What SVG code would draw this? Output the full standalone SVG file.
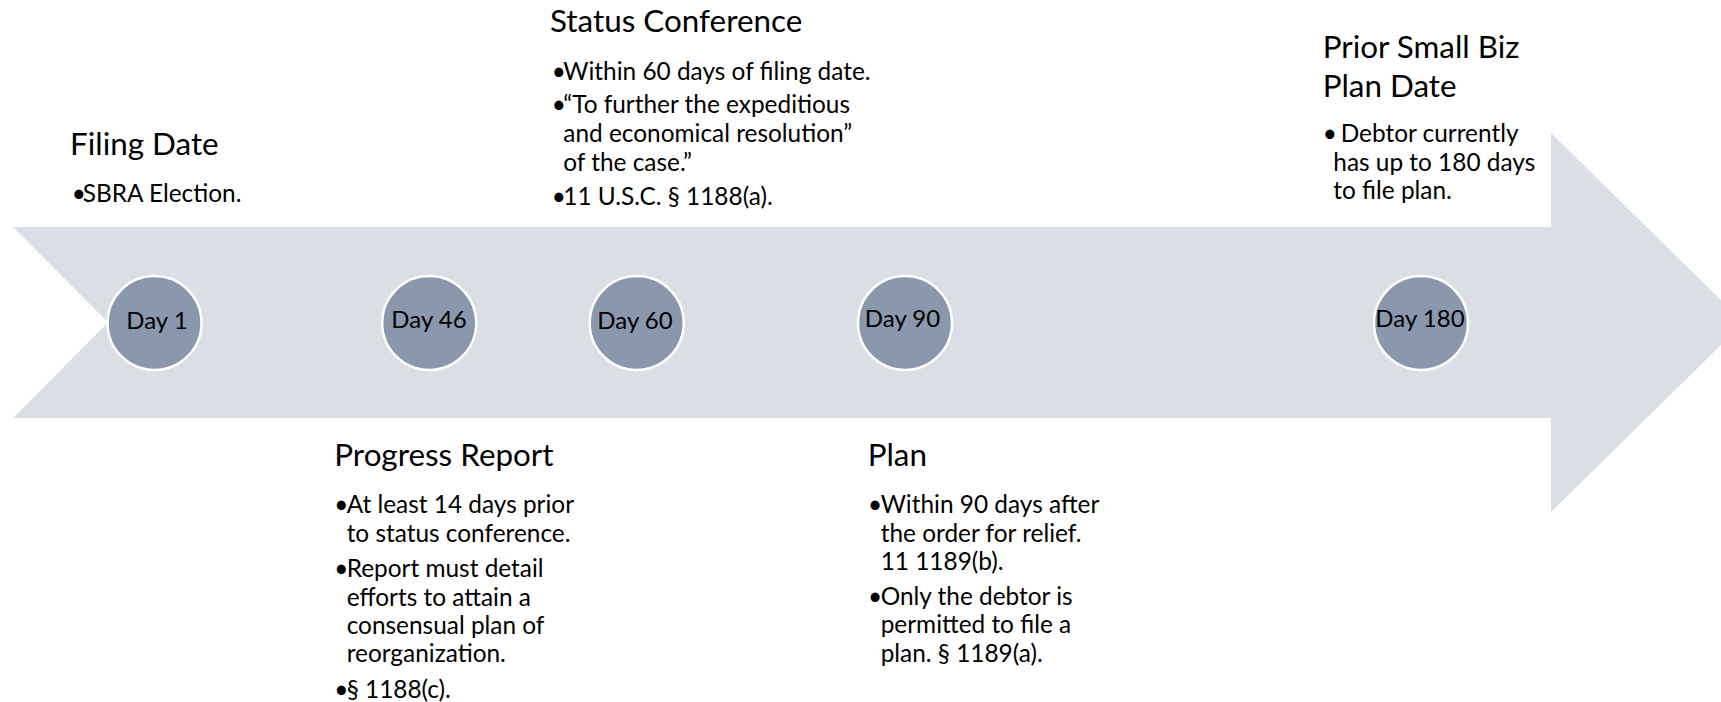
<svg xmlns="http://www.w3.org/2000/svg" width="1721" height="702" viewBox="0 0 1721 702">
  <style>
    text { font-family: Lato, "Liberation Sans", sans-serif; fill: #000; }
    .band { fill: #DADEE5; }
    .dot { fill: #8A97AC; stroke: #FFFFFF; stroke-width: 2.5; }
    .head { font-size: 31.4px; }
    .body { font-size: 24.4px; }
    .day { font-size: 24px; text-anchor: middle; }
  </style>

  <!-- timeline band: notched arrow running left to right -->
  <g id="connectors">
    <path class="band" d="M13,227 L1551,227 L1551,133 L1744,322.5 L1551,512 L1551,418 L13,418 L108,322.5 Z"/>
  </g>

  <!-- milestone markers -->
  <g id="day1">
    <circle class="dot" cx="154.5" cy="323" r="47"/>
    <text class="day" x="157" y="329">Day 1</text>
  </g>
  <g id="day46">
    <circle class="dot" cx="429.2" cy="323" r="47"/>
    <text class="day" x="429" y="328.3">Day 46</text>
  </g>
  <g id="day60">
    <circle class="dot" cx="636.7" cy="323" r="47"/>
    <text class="day" x="635" y="329.3">Day 60</text>
  </g>
  <g id="day90">
    <circle class="dot" cx="905" cy="323" r="47"/>
    <text class="day" x="902.5" y="326.7">Day 90</text>
  </g>
  <g id="day180">
    <circle class="dot" cx="1421" cy="323" r="47"/>
    <text class="day" x="1420" y="326.7">Day 180</text>
  </g>

  <!-- captions above the band -->
  <g id="filing-date">
    <text class="head" x="70" y="155">Filing Date</text>
    <text class="body" x="71.7" y="201.7">•</text>
    <text class="body" x="82.7" y="201.7">SBRA Election.</text>
  </g>

  <g id="status-conference">
    <text class="head" x="550" y="32.3">Status Conference</text>
    <text class="body" x="551.7" y="80">•</text>
    <text class="body" x="563.3" y="80">Within 60 days of filing date.</text>
    <text class="body" x="551.7" y="113">•</text>
    <text class="body" x="563.3" y="113">“To further the expeditious</text>
    <text class="body" x="563.3" y="142">and economical resolution”</text>
    <text class="body" x="563.3" y="171">of the case.”</text>
    <text class="body" x="551.7" y="205">•</text>
    <text class="body" x="563.3" y="205">11 U.S.C. § 1188(a).</text>
  </g>

  <g id="prior-plan-date">
    <text class="head" x="1322.7" y="58.3">Prior Small Biz</text>
    <text class="head" x="1322.7" y="96.7">Plan Date</text>
    <text class="body" x="1322.7" y="142.3">•</text>
    <text class="body" x="1340.7" y="142.3">Debtor currently</text>
    <text class="body" x="1333.3" y="170.7">has up to 180 days</text>
    <text class="body" x="1333.3" y="199.3">to file plan.</text>
  </g>

  <!-- captions below the band -->
  <g id="progress-report">
    <text class="head" x="334.3" y="466">Progress Report</text>
    <text class="body" x="334.3" y="512.7">•</text>
    <text class="body" x="346.7" y="512.7">At least 14 days prior</text>
    <text class="body" x="346.7" y="541.7">to status conference.</text>
    <text class="body" x="334.3" y="576.7">•</text>
    <text class="body" x="346.7" y="576.7">Report must detail</text>
    <text class="body" x="346.7" y="605.7">efforts to attain a</text>
    <text class="body" x="346.7" y="634.3">consensual plan of</text>
    <text class="body" x="346.7" y="662.3">reorganization.</text>
    <text class="body" x="334.3" y="698.3">•</text>
    <text class="body" x="346.7" y="698.3">§ 1188(c).</text>
  </g>

  <g id="plan">
    <text class="head" x="867.7" y="466">Plan</text>
    <text class="body" x="868" y="512.7">•</text>
    <text class="body" x="880.7" y="512.7">Within 90 days after</text>
    <text class="body" x="880.7" y="541.7">the order for relief.</text>
    <text class="body" x="880.7" y="570">11 1189(b).</text>
    <text class="body" x="868" y="605">•</text>
    <text class="body" x="880.7" y="605">Only the debtor is</text>
    <text class="body" x="880.7" y="633.3">permitted to file a</text>
    <text class="body" x="880.7" y="662.3">plan. § 1189(a).</text>
  </g>
</svg>
